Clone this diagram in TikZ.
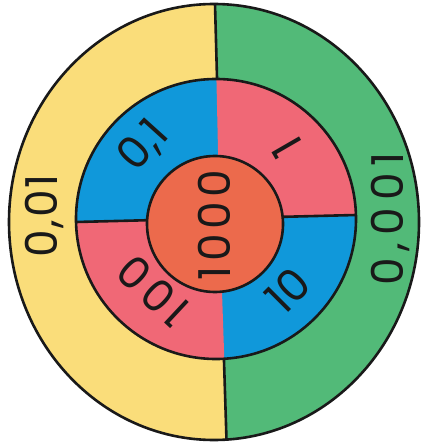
\documentclass[tikz,border=0pt]{standalone}
\usepackage{fontspec}
\setmainfont{Poppins}
\definecolor{cyel}{RGB}{250,221,122}
\definecolor{cgrn}{RGB}{82,186,120}
\definecolor{cblu}{RGB}{16,152,218}
\definecolor{cpnk}{RGB}{240,104,118}
\definecolor{corg}{RGB}{236,106,76}
\begin{document}
\begin{tikzpicture}[x=1pt,y=-1pt,
  outl/.style={line width=2.6pt, draw=black!90},
  lbl/.style={inner sep=0pt, text=black!90, font=\fontsize{44}{44}\selectfont},
  wide/.style={font=\fontsize{44}{44}\selectfont\addfontfeature{LetterSpace=#1}}]
\useasboundingbox (0,0) rectangle (426,443);
\fill[white] (0,0) rectangle (426,443);
% outer disc, two halves
\begin{scope}
  \clip (214,222) ellipse [x radius=205, y radius=218];
  \fill[cyel] (0,0) -- (215,0) -- (217,78) -- (224,361) -- (227,443) -- (0,443) -- cycle;
  \fill[cgrn] (215,0) -- (426,0) -- (426,443) -- (227,443) -- (224,361) -- (217,78) -- cycle;
\end{scope}
\draw[outl] (214,222) ellipse [x radius=205, y radius=218];
\draw[outl] (215,4) -- (217,78) -- (224,361) -- (226.5,440);
% middle ring, four quarters
\begin{scope}
  \clip (216,219) circle [radius=140];
  \fill[cblu] (60,60) rectangle (380,380);
  \fill[cpnk] (216,60) -- (380,60) -- (380,214.4) -- (219.5,218.5) -- cycle;
  \fill[cpnk] (219.5,218.5) -- (60,222.5) -- (60,380) -- (225,380) -- cycle;
\end{scope}
\draw[outl] (216,219) circle [radius=140];
\draw[outl] (76,222) -- (356,215);
% centre disc
\fill[corg] (215,224) circle [radius=68];
\draw[outl] (215,224) circle [radius=68];
% labels
\node[lbl, wide=4, rotate=90] (t001) at (44,216) {0,01};
\node[lbl, wide=16, rotate=90] (t0001) at (390,219) {0,001};
\node[lbl, rotate=48] (t01) at (144,146) {0,1};
\node[lbl, rotate=120] (t1) at (287,147) {1};
\node[lbl, rotate=45] (t10) at (288,290) {10};
\node[lbl, wide=12, rotate=137] (t100) at (153,291) {100};
\node[lbl, wide=10, rotate=90] (t1000) at (214,225) {1000};
\end{tikzpicture}
\end{document}
